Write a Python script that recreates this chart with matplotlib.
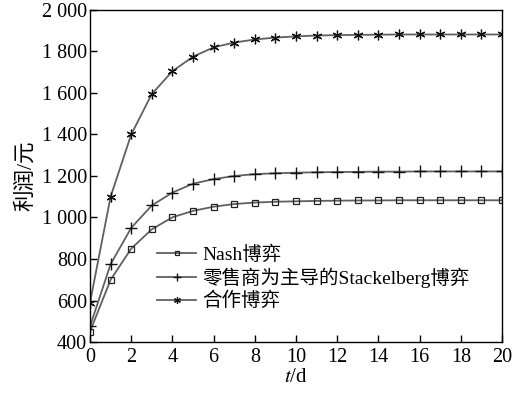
import numpy as np
import matplotlib
matplotlib.use("Agg")
import matplotlib.pyplot as plt

plt.rcParams["font.family"] = ["Liberation Serif", "Noto Sans CJK SC"]
plt.rcParams["mathtext.fontset"] = "stix"

# data
t = np.arange(0, 21)
nash = [450, 700, 850, 943, 1001, 1032, 1052, 1065, 1072, 1076, 1078,
        1080, 1081, 1082, 1082, 1083, 1083, 1083, 1083, 1083, 1083]
stackelberg = [475, 775, 950, 1058, 1120, 1163, 1185, 1200, 1209, 1213, 1216,
               1218, 1219, 1220, 1221, 1221, 1222, 1222, 1222, 1222, 1222]
coop = [590, 1100, 1400, 1595, 1705, 1775, 1820, 1843, 1858, 1867, 1873,
        1877, 1879, 1880, 1881, 1882, 1882, 1882, 1882, 1882, 1882]
labels = ["Nash博弈", "零售商为主导的Stackelberg博弈", "合作博弈"]
yticks = [400, 600, 800, 1000, 1200, 1400, 1600, 1800, 2000]
ytick_labels = ["400", "600", "800", "1 000", "1 200", "1 400", "1 600", "1 800", "2 000"]
xticks = np.arange(0, 21, 2)

fig = plt.figure(figsize=(5.29, 3.95), dpi=100)
ax = fig.add_axes([90 / 529, 1 - 342 / 395, 412 / 529, 332 / 395])

line_col = "#606060"
ax.plot(t, nash, color=line_col, lw=1.3, marker="s", ms=5, mfc="none",
        mec="#222222", mew=0.9, label=labels[0])
ax.plot(t, stackelberg, color=line_col, lw=1.3, marker="+", ms=9,
        mec="#111111", mew=1.0, label=labels[1])
ax.plot(t, coop, color=line_col, lw=1.3, marker=(6, 2, 0), ms=7,
        mec="#111111", mew=0.9, label=labels[2])

ax.set_xlim(0, 20)
ax.set_ylim(400, 2000)
ax.set_xticks(xticks)
ax.set_yticks(yticks)
ax.set_yticklabels(ytick_labels)
ax.tick_params(direction="in", length=5, width=1, labelsize=14.5,
               top=False, right=False)
ax.tick_params(axis="y", pad=2)
ax.tick_params(axis="x", pad=4)
for s in ax.spines.values():
    s.set_linewidth(1)

ax.set_xlabel(r"$t$/d", fontsize=15, labelpad=1)
ax.set_ylabel("利润/元", fontsize=15.5, labelpad=4)

leg = ax.legend(loc="upper left", bbox_to_anchor=(0.14, 0.32), frameon=False,
                fontsize=14, handlelength=2.0, handletextpad=0.3,
                labelspacing=0.2, borderpad=0, markerscale=0.7)

fig.savefig("out.png", dpi=100)
